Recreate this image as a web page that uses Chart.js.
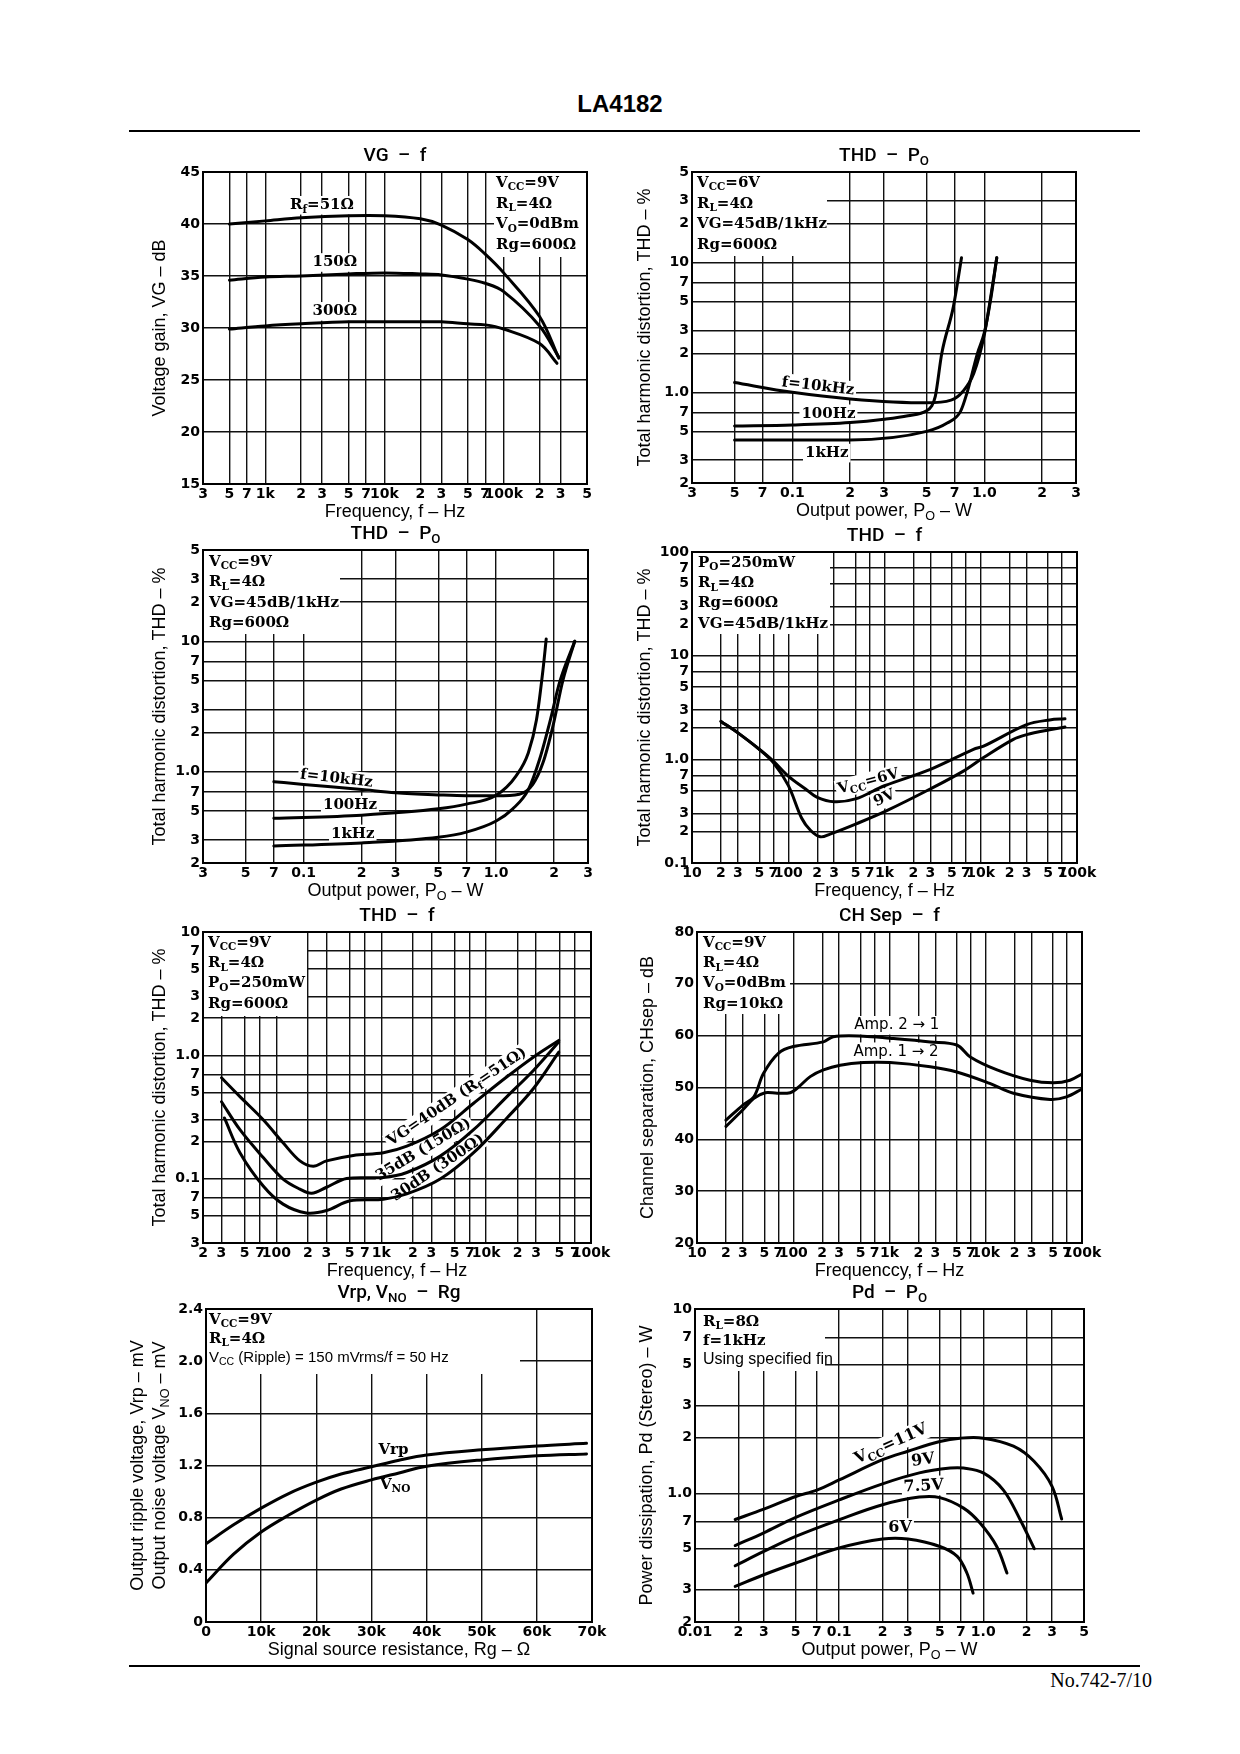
<!DOCTYPE html>
<html><head><meta charset="utf-8">
<script src="https://cdn.jsdelivr.net/npm/chart.js@4.4.0/dist/chart.umd.min.js"></script>
<style>
html,body{margin:0;padding:0;background:#fff;}
body{width:1240px;height:1754px;position:relative;overflow:hidden;}
canvas{position:absolute;}
#title{position:absolute;left:0;width:1240px;top:90px;text-align:center;font:bold 24px 'Liberation Sans',Arial,sans-serif;}
.rule{position:absolute;left:129px;width:1011px;height:2px;background:#000;}
#footer{position:absolute;right:88px;top:1669px;font:20px 'Liberation Serif','Times New Roman',serif;}
</style></head><body>
<div id="title">LA4182</div>
<div class="rule" style="top:130px"></div>
<div class="rule" style="top:1665px"></div>
<div id="footer">No.742-7/10</div>
<script>
// ---------- DATA ----------
// Chart 1: VG - f
const C1_X_TICKS = [300,500,700,1000,2000,3000,5000,7000,10000,20000,30000,50000,70000,100000,200000,300000,500000];
const C1_X_LABELS = ['3','5','7','1k','2','3','5','7','10k','2','3','5','7','100k','2','3','5'];
const C1_Y_TICKS = [15,20,25,30,35,40,45];
const C1_Y_LABELS = ['15','20','25','30','35','40','45'];
const C1_F = [500,1000,2000,5000,10000,20000,30000,50000,70000,100000,200000,290000];
const C1_VG_51 = [40.0,40.3,40.6,40.8,40.8,40.5,39.9,38.5,37.1,35.3,31.1,27.1];
const C1_VG_150 = [34.6,34.9,35.0,35.2,35.3,35.2,35.1,34.7,34.3,33.5,30.2,27.2];
const C1_F_300 = [500,1000,2000,5000,10000,20000,30000,50000,70000,100000,200000,280000];
const C1_VG_300 = [29.9,30.2,30.4,30.6,30.6,30.6,30.6,30.4,30.3,29.9,28.5,26.6];

// Chart 2: THD - Po (Vcc=6V)
const PW_TICKS = [0.03,0.05,0.07,0.1,0.2,0.3,0.5,0.7,1,2,3];
const PW_LABELS = ['3','5','7','0.1','2','3','5','7','1.0','2','3'];
const THD50_TICKS = [0.2,0.3,0.5,0.7,1,2,3,5,7,10,20,30,50];
const THD50_LABELS = ['2','3','5','7','1.0','2','3','5','7','10','2','3','5'];
const C2_PO_10K = [0.05,0.1,0.2,0.5,0.67,0.77,0.88,1.0,1.08,1.16];
const C2_THD_10K = [1.19,1.0,0.89,0.83,0.87,1.01,1.4,2.8,5.5,10.9];
const C2_PO_100 = [0.05,0.1,0.2,0.3,0.4,0.5,0.53,0.555,0.6,0.69,0.76];
const C2_THD_100 = [0.55,0.56,0.585,0.62,0.66,0.72,0.78,0.93,2.0,4.6,10.9];
const C2_PO_1K = [0.05,0.2,0.5,0.64,0.75,0.81,0.92,1.0,1.08,1.16];
const C2_THD_1K = [0.43,0.43,0.5,0.58,0.71,0.98,2.0,2.9,5.3,10.9];

// Chart 3: THD - Po (Vcc=9V)
const C3_PO_10K = [0.07,0.1,0.2,0.3,0.5,0.7,1.0,1.32,1.55,1.75,1.97,2.22,2.56];
const C3_THD_10K = [0.84,0.8,0.73,0.69,0.665,0.655,0.655,0.673,0.8,1.17,2.22,5.0,10];
const C3_PO_100 = [0.07,0.2,0.5,0.7,1.0,1.27,1.47,1.62,1.75,1.82];
const C3_THD_100 = [0.44,0.465,0.52,0.565,0.66,0.93,1.4,2.5,6,10.4];
const C3_PO_1K = [0.07,0.2,0.5,0.7,1.0,1.22,1.47,1.68,1.9,2.14,2.56];
const C3_THD_1K = [0.27,0.285,0.315,0.345,0.42,0.52,0.73,1.24,2.4,4.9,10];

// Chart 4: THD - f (Po=250mW)
const F10_TICKS = [10,20,30,50,70,100,200,300,500,700,1000,2000,3000,5000,7000,10000,20000,30000,50000,70000,100000];
const F10_LABELS = ['10','2','3','5','7','100','2','3','5','7','1k','2','3','5','7','10k','2','3','5','7','100k'];
const C4_Y_TICKS = [0.1,0.2,0.3,0.5,0.7,1,2,3,5,7,10,20,30,50,70,100];
const C4_Y_LABELS = ['0.1','2','3','5','7','1.0','2','3','5','7','10','2','3','5','7','100'];
const C4_F_6V = [20,30,50,70,100,150,200,300,500,1000,3000,8400,10700,30000,52000,75000];
const C4_THD_6V = [2.32,1.8,1.25,0.96,0.69,0.52,0.43,0.39,0.415,0.556,0.8,1.25,1.34,2.16,2.4,2.46];
const C4_F_9V = [20,30,50,70,100,138,170,215,272,516,1057,2979,6600,10700,21600,30000,52000,75000];
const C4_THD_9V = [2.32,1.8,1.25,0.93,0.56,0.27,0.207,0.179,0.19,0.24,0.32,0.517,0.77,1.04,1.55,1.73,1.93,2.05];

// Chart 5: THD - f (Vcc=9V)
const F20_TICKS = [20,30,50,70,100,200,300,500,700,1000,2000,3000,5000,7000,10000,20000,30000,50000,70000,100000];
const F20_LABELS = ['2','3','5','7','100','2','3','5','7','1k','2','3','5','7','10k','2','3','5','7','100k'];
const C5_Y_TICKS = [0.03,0.05,0.07,0.1,0.2,0.3,0.5,0.7,1,2,3,5,7,10];
const C5_Y_LABELS = ['3','5','7','0.1','2','3','5','7','1.0','2','3','5','7','10'];
const C5_F_40 = [30,45,75,116,168,225,301,542,1050,1755,3650,7600,15800,28400,49300];
const C5_THD_40 = [0.657,0.462,0.3,0.195,0.139,0.126,0.139,0.154,0.162,0.183,0.249,0.408,0.669,0.97,1.32];
const C5_F_35 = [30,45,75,116,168,217,301,468,1050,1755,3650,7600,15800,28400,49300];
const C5_THD_35 = [0.42,0.249,0.148,0.099,0.082,0.076,0.085,0.1,0.102,0.112,0.152,0.249,0.462,0.757,1.28];
const C5_F_30 = [32,45,75,116,193,301,505,1050,1755,3650,7600,15800,28400,49300];
const C5_THD_30 = [0.31,0.162,0.087,0.062,0.0526,0.055,0.066,0.068,0.075,0.099,0.162,0.31,0.54,1.06];

// Chart 6: CH Sep - f
const C6_Y_TICKS = [20,30,40,50,60,70,80];
const C6_Y_LABELS = ['20','30','40','50','60','70','80'];
const C6_F_21 = [20,30,39,49,70,100,206,261,536,1013,2650,5000,6900,13100,28800,50600,75000,100000];
const C6_SEP_21 = [43.7,46.6,48.2,52.7,56.6,57.9,58.8,59.8,59.9,59.5,58.8,58.2,55.9,53.4,51.4,50.9,51.4,52.6];
const C6_F_12 = [20,30,39,51,68,93,109,150,206,307,536,1013,2650,5000,11000,19400,46600,69000,100000];
const C6_SEP_12 = [42.5,45.7,47.9,49.0,48.9,49.0,49.8,52.1,53.4,54.3,54.8,54.8,54.0,53.0,50.8,48.9,47.7,48.2,49.7];

// Chart 7: Vrp, VNO - Rg
const C7_X_TICKS = [0,10000,20000,30000,40000,50000,60000,70000];
const C7_X_LABELS = ['0','10k','20k','30k','40k','50k','60k','70k'];
const C7_Y_TICKS = [0,0.4,0.8,1.2,1.6,2.0,2.4];
const C7_Y_LABELS = ['0','0.4','0.8','1.2','1.6','2.0','2.4'];
const C7_RG = [0,5000,10000,15000,20000,24500,30000,35000,40000,50000,60000,69000];
const C7_VRP = [0.6,0.745,0.873,0.985,1.072,1.135,1.19,1.24,1.28,1.32,1.35,1.37];
const C7_VNO = [0.3,0.52,0.69,0.82,0.935,1.02,1.09,1.143,1.195,1.243,1.274,1.289];

// Chart 8: Pd - Po
const C8_X_TICKS = [0.01,0.02,0.03,0.05,0.07,0.1,0.2,0.3,0.5,0.7,1,2,3,5];
const C8_X_LABELS = ['0.01','2','3','5','7','0.1','2','3','5','7','1.0','2','3','5'];
const C8_Y_TICKS = [0.2,0.3,0.5,0.7,1,2,3,5,7,10];
const C8_Y_LABELS = ['2','3','5','7','1.0','2','3','5','7','10'];
const C8_PO_11 = [0.019,0.03,0.05,0.07,0.1,0.2,0.3,0.5,0.69,1.0,1.62,2.25,3.0,3.5];
const C8_PD_11 = [0.72,0.82,0.96,1.04,1.18,1.52,1.69,1.91,1.99,1.99,1.8,1.49,1.09,0.725];
const C8_PO_9 = [0.019,0.03,0.05,0.1,0.2,0.36,0.59,0.73,1.0,1.38,1.8,2.26];
const C8_PD_9 = [0.52,0.61,0.74,0.92,1.125,1.29,1.37,1.37,1.29,1.04,0.72,0.5];
const C8_PO_75 = [0.019,0.03,0.05,0.1,0.2,0.36,0.5,0.73,0.95,1.24,1.46];
const C8_PD_75 = [0.404,0.483,0.583,0.718,0.866,0.953,0.947,0.83,0.689,0.514,0.369];
const C8_PO_6 = [0.019,0.03,0.05,0.1,0.2,0.3,0.5,0.66,0.77,0.85];
const C8_PD_6 = [0.312,0.361,0.418,0.504,0.564,0.564,0.514,0.454,0.369,0.287];

// ---------- STYLE ----------
const SERIF_F = {family:"'DejaVu Serif', serif", size:15, weight:'bold'};
const SERIF16 = {family:"'DejaVu Serif', serif", size:16, weight:'bold'};
const AMP_F = {family:"'DejaVu Sans', sans-serif", size:15, weight:'normal'};
const SANS16 = {family:"'Liberation Sans', Arial, sans-serif", size:16, weight:'normal'};
const SANS15 = {family:"'Liberation Sans', Arial, sans-serif", size:15, weight:'normal'};
const AXIS_F = {family:"'Liberation Sans', Arial, sans-serif", size:18, weight:'normal'};
const TITLE_F = {family:"Roboto, 'Liberation Sans', sans-serif", size:19, weight:'500'};
const TICK_FAMILY = "'DejaVu Sans', sans-serif";

function parts(s){
  const out=[]; const re=/_\{([^}]*)\}/g; let last=0,m;
  while((m=re.exec(s))){ if(m.index>last) out.push({t:s.slice(last,m.index),sub:false}); out.push({t:m[1],sub:true}); last=re.lastIndex; }
  if(last<s.length) out.push({t:s.slice(last),sub:false});
  return out;
}
function fstr(f,size){ return (f.weight||'normal')+' '+size+'px '+f.family; }
function measureRich(ctx,s,f){ let w=0; for(const p of parts(s)){ ctx.font=fstr(f,p.sub?f.size*0.7:f.size); w+=ctx.measureText(p.t).width; } return w; }
function drawRich(ctx,s,x,y,f,align){
  const w=measureRich(ctx,s,f);
  let cx = align==='left'?x:(align==='right'?x-w:x-w/2);
  ctx.textBaseline='middle'; ctx.textAlign='left';
  for(const p of parts(s)){
    const size=p.sub?f.size*0.7:f.size; ctx.font=fstr(f,size);
    ctx.fillText(p.t,cx,p.sub?y+f.size*0.3:y);
    cx+=ctx.measureText(p.t).width;
  }
  return w;
}

function makeDecor(d){
  return {
    id:'decor',
    beforeDatasetsDraw(chart){
      const ctx=chart.ctx, a=chart.chartArea, xs=chart.scales.x, ys=chart.scales.y;
      ctx.save();
      if(d.box){
        const b=d.box;
        const x0 = b.anchor==='tr' ? a.right-b.w : a.left;
        ctx.fillStyle='#fff'; ctx.fillRect(x0+1,a.top+1,b.w-1,b.h);
        ctx.fillStyle='#000';
        b.lines.forEach((ln,i)=>{ drawRich(ctx,ln.t,x0+b.pad,a.top+b.top+i*b.lh,ln.f||SERIF_F,'left'); });
      }
      (d.labels||[]).forEach(L=>{
        const f=L.f||SERIF_F;
        const px=xs.getPixelForValue(L.x), py=ys.getPixelForValue(L.y);
        ctx.save(); ctx.translate(px,py); ctx.rotate((L.rot||0)*Math.PI/180);
        const w=measureRich(ctx,L.t,f);
        ctx.fillStyle='#fff'; ctx.fillRect(-w/2-2,-f.size*0.62,w+4,f.size*1.24);
        ctx.fillStyle='#000'; drawRich(ctx,L.t,0,0,f,'center');
        ctx.restore();
      });
      ctx.restore();
    },
    afterDraw(chart){
      const ctx=chart.ctx, a=chart.chartArea;
      ctx.save();
      ctx.strokeStyle='#000'; ctx.lineWidth=2;
      ctx.strokeRect(a.left,a.top,a.right-a.left,a.bottom-a.top);
      ctx.fillStyle='#000';
      drawRich(ctx,d.title,(a.left+a.right)/2,a.top-16,TITLE_F,'center');
      drawRich(ctx,d.xTitle,(a.left+a.right)/2,a.bottom+28,AXIS_F,'center');
      const ym=(a.top+a.bottom)/2;
      d.yTitle.forEach((t,i)=>{ ctx.save(); ctx.translate(a.left-d.yOff[i],ym); ctx.rotate(-Math.PI/2); drawRich(ctx,t,0,0,AXIS_F,'center'); ctx.restore(); });
      ctx.restore();
    }
  };
}

function axis(ax,dir,size){
  return {
    type:ax.type, min:ax.min, max:ax.max, position:dir==='x'?'bottom':'left',
    afterBuildTicks:s=>{ s.ticks=ax.ticks.map(v=>({value:v})); },
    afterFit:s=>{ if(dir==='x') s.height=size; else s.width=size; },
    ticks:{autoSkip:false,maxRotation:0,minRotation:0,padding:dir==='x'?2:3,color:'#000',
      font:{family:TICK_FAMILY,size:14,weight:'bold'},callback:(v,i)=>ax.labels[i]},
    grid:{color:'#111',lineWidth:1.4,drawTicks:false},
    border:{display:false}
  };
}

function zip(xs,ys){ return xs.map((v,i)=>({x:v,y:ys[i]})); }

function makeChart(rect,cfg){
  const L=95,T=45,R=25,B=45;
  const W=rect.r-rect.l+L+R, H=rect.b-rect.t+T+B;
  const c=document.createElement('canvas');
  c.width=W; c.height=H;
  c.style.left=(rect.l-L)+'px'; c.style.top=(rect.t-T)+'px';
  c.style.width=W+'px'; c.style.height=H+'px';
  document.body.appendChild(c);
  const mono = cfg.smooth==='monotone';
  new Chart(c,{
    type:'line',
    data:{datasets:cfg.series.map(s=>({data:zip(s[0],s[1]),borderColor:'#000',borderWidth:3,pointRadius:0,fill:false,
      cubicInterpolationMode:mono?'monotone':'default',tension:mono?0:0.35,borderCapStyle:'round',borderJoinStyle:'round'}))},
    options:{responsive:false,animation:false,devicePixelRatio:1,
      layout:{padding:{left:0,top:T,right:R,bottom:0}},
      plugins:{legend:{display:false},tooltip:{enabled:false}},
      scales:{x:axis(cfg.xa,'x',B),y:axis(cfg.ya,'y',L)}},
    plugins:[makeDecor(cfg.decor)]
  });
}

const THD_Y = 'Total harmonic distortion, THD – %';

// Chart 1
makeChart({l:203,t:172,r:587,b:484},{
  xa:{type:'logarithmic',min:300,max:500000,ticks:C1_X_TICKS,labels:C1_X_LABELS},
  ya:{type:'linear',min:15,max:45,ticks:C1_Y_TICKS,labels:C1_Y_LABELS},
  series:[[C1_F,C1_VG_51],[C1_F,C1_VG_150],[C1_F_300,C1_VG_300]],
  decor:{title:'VG  –  f',xTitle:'Frequency, f – Hz',yTitle:['Voltage gain, VG – dB'],yOff:[43],
    box:{anchor:'tr',w:94,h:84,pad:3,top:11,lh:20.7,lines:[{t:'V_{CC}=9V'},{t:'R_{L}=4Ω'},{t:'V_{O}=0dBm'},{t:'Rg=600Ω'}]},
    labels:[{x:2990,y:41.8,t:'R_{f}=51Ω'},{x:3830,y:36.3,t:'150Ω'},{x:3830,y:31.6,t:'300Ω'}]}
});

// Chart 2
makeChart({l:692,t:172,r:1076,b:483},{
  smooth:'monotone',
  xa:{type:'logarithmic',min:0.03,max:3,ticks:PW_TICKS,labels:PW_LABELS},
  ya:{type:'logarithmic',min:0.2,max:50,ticks:THD50_TICKS,labels:THD50_LABELS},
  series:[[C2_PO_10K,C2_THD_10K],[C2_PO_100,C2_THD_100],[C2_PO_1K,C2_THD_1K]],
  decor:{title:'THD  –  P_{O}',xTitle:'Output power, P_{O} – W',yTitle:[THD_Y],yOff:[47],
    box:{anchor:'tl',w:135,h:83,pad:5,top:11,lh:20.7,lines:[{t:'V_{CC}=6V'},{t:'R_{L}=4Ω'},{t:'VG=45dB/1kHz'},{t:'Rg=600Ω'}]},
    labels:[{x:0.136,y:1.11,t:'f=10kHz',rot:6.6},{x:0.154,y:0.683,t:'100Hz'},{x:0.151,y:0.34,t:'1kHz'}]}
});

// Chart 3
makeChart({l:203,t:550,r:588,b:863},{
  smooth:'monotone',
  xa:{type:'logarithmic',min:0.03,max:3,ticks:PW_TICKS,labels:PW_LABELS},
  ya:{type:'logarithmic',min:0.2,max:50,ticks:THD50_TICKS,labels:THD50_LABELS},
  series:[[C3_PO_10K,C3_THD_10K],[C3_PO_100,C3_THD_100],[C3_PO_1K,C3_THD_1K]],
  decor:{title:'THD  –  P_{O}',xTitle:'Output power, P_{O} – W',yTitle:[THD_Y],yOff:[43],
    box:{anchor:'tl',w:137,h:83,pad:6,top:12,lh:20.5,lines:[{t:'V_{CC}=9V'},{t:'R_{L}=4Ω'},{t:'VG=45dB/1kHz'},{t:'Rg=600Ω'}]},
    labels:[{x:0.148,y:0.885,t:'f=10kHz',rot:6.5},{x:0.174,y:0.555,t:'100Hz'},{x:0.18,y:0.334,t:'1kHz'}]}
});

// Chart 4
makeChart({l:692,t:552,r:1077,b:863},{
  xa:{type:'logarithmic',min:10,max:100000,ticks:F10_TICKS,labels:F10_LABELS},
  ya:{type:'logarithmic',min:0.1,max:100,ticks:C4_Y_TICKS,labels:C4_Y_LABELS},
  series:[[C4_F_6V,C4_THD_6V],[C4_F_9V,C4_THD_9V]],
  decor:{title:'THD  –  f',xTitle:'Frequency, f – Hz',yTitle:[THD_Y],yOff:[47],
    box:{anchor:'tl',w:138,h:81,pad:6,top:11,lh:20.3,lines:[{t:'P_{O}=250mW'},{t:'R_{L}=4Ω'},{t:'Rg=600Ω'},{t:'VG=45dB/1kHz'}]},
    labels:[{x:680,y:0.61,t:'V_{CC}=6V',rot:-15},{x:1000,y:0.42,t:'9V',rot:-25}]}
});

// Chart 5
makeChart({l:203,t:932,r:591,b:1243},{
  xa:{type:'logarithmic',min:20,max:100000,ticks:F20_TICKS,labels:F20_LABELS},
  ya:{type:'logarithmic',min:0.03,max:10,ticks:C5_Y_TICKS,labels:C5_Y_LABELS},
  series:[[C5_F_40,C5_THD_40],[C5_F_35,C5_THD_35],[C5_F_30,C5_THD_30]],
  decor:{title:'THD  –  f',xTitle:'Frequency, f – Hz',yTitle:[THD_Y],yOff:[43],
    box:{anchor:'tl',w:104,h:83,pad:5,top:11,lh:20.3,lines:[{t:'V_{CC}=9V'},{t:'R_{L}=4Ω'},{t:'P_{O}=250mW'},{t:'Rg=600Ω'}]},
    labels:[{x:5280,y:0.459,t:'VG=40dB (R_{f}=51Ω)',rot:-34},{x:2530,y:0.171,t:'35dB (150Ω)',rot:-31},{x:3478,y:0.122,t:'30dB (300Ω)',rot:-34}]}
});

// Chart 6
makeChart({l:697,t:932,r:1082,b:1243},{
  xa:{type:'logarithmic',min:10,max:100000,ticks:F10_TICKS,labels:F10_LABELS},
  ya:{type:'linear',min:20,max:80,ticks:C6_Y_TICKS,labels:C6_Y_LABELS},
  series:[[C6_F_21,C6_SEP_21],[C6_F_12,C6_SEP_12]],
  decor:{title:'CH Sep  –  f',xTitle:'Frequenccy, f – Hz',yTitle:['Channel separation, CHsep – dB'],yOff:[49],
    box:{anchor:'tl',w:93,h:81,pad:6,top:11,lh:20.3,lines:[{t:'V_{CC}=9V'},{t:'R_{L}=4Ω'},{t:'V_{O}=0dBm'},{t:'Rg=10kΩ'}]},
    labels:[{x:1191,y:62,t:'Amp. 2 → 1',f:AMP_F},{x:1170,y:56.9,t:'Amp. 1 → 2',f:AMP_F}]}
});

// Chart 7
makeChart({l:206,t:1309,r:592,b:1622},{
  xa:{type:'linear',min:0,max:70000,ticks:C7_X_TICKS,labels:C7_X_LABELS},
  ya:{type:'linear',min:0,max:2.4,ticks:C7_Y_TICKS,labels:C7_Y_LABELS},
  series:[[C7_RG,C7_VRP],[C7_RG,C7_VNO]],
  decor:{title:'Vrp, V_{NO}  –  Rg',xTitle:'Signal source resistance, Rg – Ω',
    yTitle:['Output ripple voltage, Vrp – mV','Output noise voltage V_{NO} – mV'],yOff:[68,46],
    box:{anchor:'tl',w:314,h:64,pad:3,top:11,lh:19,lines:[{t:'V_{CC}=9V'},{t:'R_{L}=4Ω'},{t:'V_{CC} (Ripple) = 150 mVrms/f = 50 Hz',f:SANS15}]},
    labels:[{x:34000,y:1.32,t:'Vrp'},{x:34300,y:1.05,t:'V_{NO}'}]}
});

// Chart 8
makeChart({l:695,t:1309,r:1084,b:1622},{
  xa:{type:'logarithmic',min:0.01,max:5,ticks:C8_X_TICKS,labels:C8_X_LABELS},
  ya:{type:'logarithmic',min:0.2,max:10,ticks:C8_Y_TICKS,labels:C8_Y_LABELS},
  series:[[C8_PO_11,C8_PD_11],[C8_PO_9,C8_PD_9],[C8_PO_75,C8_PD_75],[C8_PO_6,C8_PD_6]],
  decor:{title:'Pd  –  P_{O}',xTitle:'Output power, P_{O} – W',yTitle:['Power dissipation, Pd (Stereo) – W'],yOff:[48],
    box:{anchor:'tl',w:130,h:61,pad:8,top:13,lh:19,lines:[{t:'R_{L}=8Ω'},{t:'f=1kHz'},{t:'Using specified fin',f:SANS16}]},
    labels:[{x:0.229,y:1.85,t:'V_{CC}=11V',rot:-24,f:SERIF16},{x:0.382,y:1.51,t:'9V',rot:-8,f:SERIF16},{x:0.386,y:1.09,t:'7.5V',rot:-3,f:SERIF16},{x:0.265,y:0.647,t:'6V',f:SERIF16}]}
});
</script>
</body></html>
